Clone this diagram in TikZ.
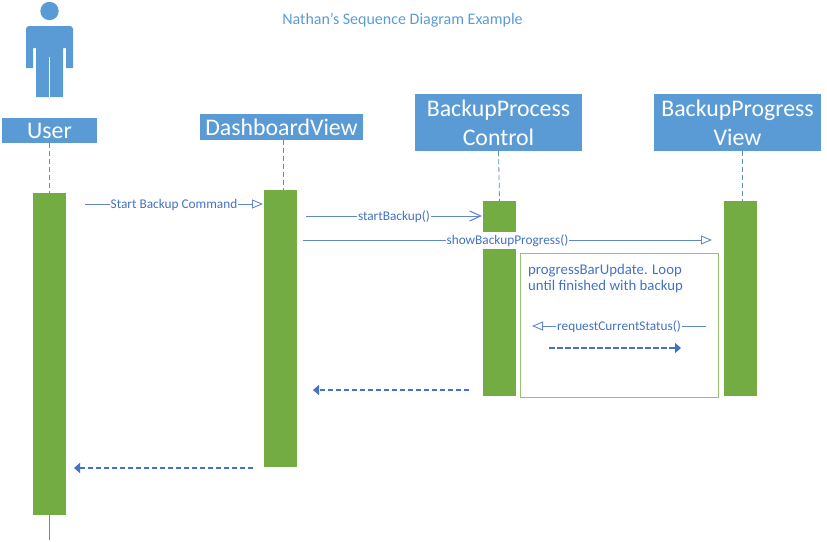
\documentclass[tikz,border=0pt]{standalone}
\usepackage{fontspec}
\setmainfont{Carlito}
\usetikzlibrary{arrows.meta}
\definecolor{boxBlue}{HTML}{5B9BD5}
\definecolor{barGreen}{HTML}{72AC42}
\definecolor{arrowBlue}{HTML}{4472C4}
\definecolor{lifeBlue}{HTML}{5B8FBF}

\begin{document}
\begin{tikzpicture}
[x=1pt,y=-1pt,
  headDecorate/.style={shape=rectangle,fill=boxBlue,text=white,inner sep=0pt,align=center,font=\fontsize{23.8}{29}\selectfont},%
  barDecorate/.style={shape=rectangle,fill=barGreen,inner sep=0pt,minimum width=33pt},%
  lifeDecorate/.style={lifeBlue,line width=0.8pt,dash pattern=on 5pt off 3pt},%
  callDecorate/.style={arrowBlue!85!white,line width=0.9pt,-{Triangle[open,length=11pt,width=9pt]}},%
  barbDecorate/.style={arrowBlue!85!white,line width=0.9pt,-{Straight Barb[length=11pt,width=10pt,line width=1.1pt]}},%
  returnDecorate/.style={arrowBlue,line width=2.4pt,dash pattern=on 5.5pt off 2.5pt,-{Triangle[length=6pt,width=10pt]}},%
  labelDecorate/.style={fill=white,inner xsep=1pt,inner ysep=1pt,yshift=-0.7pt,text=arrowBlue,font=\fontsize{13.3}{15}\selectfont}]
\useasboundingbox (0,0) rectangle (827,541);
%% title
\node (title) at (402.5,20) [text=boxBlue,font=\fontsize{16}{19}\selectfont] {Nathan's Sequence Diagram Example};
%% actor figure
\fill[boxBlue] (49.5,11) circle (9.2);
\fill[boxBlue] (26,68) -- (26,29) arc[start angle=180,end angle=270,radius=3] -- (70,26) arc[start angle=270,end angle=360,radius=3]
  -- (73,68) -- (66,68) -- (66,48) -- (63,48) -- (63,97) -- (36,97) -- (36,48) -- (33,48) -- (33,68) -- cycle;
\draw[white,line width=0.8pt] (49.5,57) -- (49.5,97);
%% heads
\foreach \nodename/\xa/\ya/\xb/\yb/\caption in {
  user/2/118/97/143/User, dashboardView/200/114/363/140/DashboardView,
  processControl/415/94/582/151/{BackupProcess\\Control},
  progressView/654/94/821/151/{BackupProgress\\View}}
{
  \node (\nodename) at ({(\xa+\xb)/2},{(\ya+\yb)/2}) [headDecorate,minimum width={(\xb-\xa)*1pt},minimum height={(\yb-\ya)*1pt}] {\caption};
}
%% bars
\foreach \nodename/\x/\ya/\yb in {
  userBar/49.5/193/515, dashboardBar/280.5/190/467, controlBarTop/499.5/201/232,
  controlBar/499.5/249/396, viewBar/740.5/201/396}
{
  \node (\nodename) at (\x,{(\ya+\yb)/2}) [barDecorate,minimum height={(\yb-\ya)*1pt}] {};
}
%% loop frame
\node (loopFrame) at (619,325) [draw=barGreen!75!white,line width=0.9pt,minimum width=198pt,minimum height=144pt,inner sep=0pt] {};
\node (loopText) at (528,278.5) [anchor=west,align=left,inner sep=0pt,text=arrowBlue,font=\fontsize{14.8}{16}\selectfont] {progressBarUpdate. Loop\\until finished with backup};
%% free ends
\foreach \nodename/\x/\y in {
  userEnd/49.5/540, dashboardLife/283/190, dashboardTop/283/140, viewLife/742/201, viewTop/742/151,
  startA/85/204, startB/263/204, backupA/306/216, backupB/482/216, showA/303/240, showB/712/240,
  requestA/706/326, requestB/532/326, replyA/549/348, replyB/681/348,
  controlA/469/390, controlB/313/390, dashA/253/468, dashB/74/468}
{
  \coordinate (\nodename) at (\x,\y);
}
%% lifelines
\draw[lifeDecorate] (user.south) -- (userBar.north);
\draw[lifeDecorate] (dashboardTop) -- (dashboardLife);
\draw[lifeDecorate] (processControl.south) -- (controlBarTop.north);
\draw[lifeDecorate] (viewTop) -- (viewLife);
\draw[lifeBlue,line width=0.8pt] (userBar.south) -- (userEnd);
%% calls
\path
\foreach \startnode/\endnode/\caption/\callstyle in {
  startA/startB/Start Backup Command/callDecorate, backupA/backupB/startBackup()/barbDecorate,
  showA/showB/showBackupProgress()/callDecorate, requestA/requestB/requestCurrentStatus()/callDecorate}
{
  (\startnode) edge[\callstyle] node[labelDecorate] {\caption} (\endnode)
};
%% returns
\path
\foreach \startnode/\endnode in {replyA/replyB, controlA/controlB, dashA/dashB}
{
  (\startnode) edge[returnDecorate] (\endnode)
};
\end{tikzpicture}
\end{document}
